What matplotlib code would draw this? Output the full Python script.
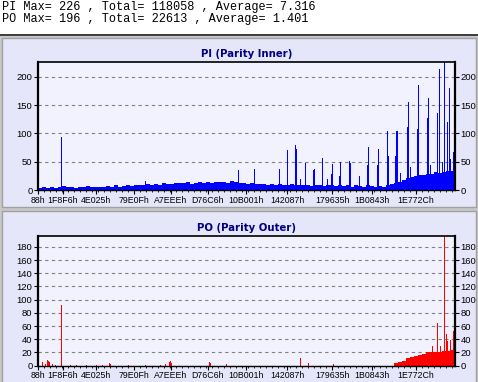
import matplotlib
matplotlib.use("Agg")
import matplotlib.pyplot as plt
from matplotlib.patches import Rectangle
from matplotlib.ticker import MultipleLocator
import numpy as np

# header stats
pi_stats = "PI Max= 226 , Total= 118058 , Average= 7.316"
po_stats = "PO Max= 196 , Total= 22613 , Average= 1.401"

# x axis: address bins (one unit ~ one screen column of the original)
tick_pos = [0, 25, 58, 96, 133, 170, 208, 249, 294, 334, 378]
tick_labels = ["88h", "1F8F6h", "4E025h", "79E0Fh", "A7EEEh", "D76C6h",
               "10B001h", "142087h", "179635h", "1B0843h", "1E772Ch"]
block = 4

# PI: background level per 4-bin block, then the isolated spikes
pi_base = [4, 6, 3, 5, 4, 6,
           7, 5, 6, 4, 6, 5, 7, 5, 6, 6,
           6, 7, 5, 8, 6, 7, 9, 7, 8, 9,
           8, 10, 9, 11, 9, 12, 10, 11, 13, 12,
           12, 14, 11, 13, 15, 12, 14, 13, 15, 14,
           15, 13, 16, 14, 12, 13, 11, 12, 10, 11,
           10, 9, 11, 9, 10, 8, 9, 10, 8, 9,
           8, 9, 7, 8, 9, 7, 8, 9, 7, 8,
           7, 8, 6, 8, 7, 6, 8, 7, 6, 7,
           6, 8, 10, 13, 15, 18, 21, 23, 24, 26,
           27, 29, 28, 31, 30, 32, 33, 34]
pi_spike_x = [23, 107, 200, 216, 241, 249, 257, 258, 262, 267, 275, 276, 284,
              289, 293, 294, 301, 302, 311, 312, 321, 329, 330, 339, 340, 349,
              350, 357, 358, 359, 362, 369, 370, 372, 379, 380, 389, 390, 392,
              399, 401, 404, 406, 409, 411, 412, 415]
pi_spike_y = [94, 16, 35, 37, 38, 70, 79, 72, 19, 48, 35, 38, 56,
              20, 29, 46, 25, 50, 51, 48, 24, 44, 76, 45, 73, 104,
              60, 60, 104, 104, 30, 112, 155, 40, 108, 186, 127, 163, 45,
              136, 215, 50, 226, 120, 181, 55, 67]

# PO
po_base = [0] * 89 + [4, 5, 7, 11, 13, 15, 16, 18, 20, 20, 21, 21, 22, 23, 24]
po_spike_x = [4, 7, 9, 10, 11, 14, 17, 23, 32, 38, 48, 58, 64, 71, 72, 90,
              107, 122, 127, 131, 132, 133, 171, 172, 188, 262, 270, 295,
              394, 399, 402, 406, 408, 409, 412, 415]
po_spike_y = [5, 2, 8, 7, 6, 2, 1, 92, 1, 1, 1, 1, 1, 4, 3, 1,
              1, 1, 2, 6, 7, 4, 6, 4, 2, 11, 4, 3,
              30, 64, 30, 196, 48, 37, 39, 53]

W, H = 478, 382
fig = plt.figure(figsize=(W / 100, H / 100), dpi=100)
fig.patch.set_facecolor("#c8c8c8")


def px_rect(x0, y0, x1, y1, **kw):
    fig.patches.append(Rectangle((x0 / W, 1 - y1 / H), (x1 - x0) / W, (y1 - y0) / H,
                                 transform=fig.transFigure, figure=fig, zorder=-10, **kw))


# header box and the two panels
px_rect(0, 0, W, 34, facecolor="white", edgecolor="none")
px_rect(0, 34, W, 36, facecolor="#404040", edgecolor="none")
px_rect(2, 38, 476, 207, facecolor="#e6e6fa", edgecolor="#a0a0a0", linewidth=1)
px_rect(2, 211, 476, 383, facecolor="#e6e6fa", edgecolor="#a0a0a0", linewidth=1)

fig.text(2 / W, 1 - 7 / H, pi_stats, family="Liberation Mono", fontsize=8.6, va="center")
fig.text(2 / W, 1 - 19 / H, po_stats, family="Liberation Mono", fontsize=8.6, va="center")


def panel(rect, title, base, sx, sy, color, ymax, step):
    ax = fig.add_axes(rect)
    ax.set_facecolor("#f2f2ff")
    xb = np.arange(len(base)) * block
    ax.bar(xb, base, width=block, align="edge", color=color, linewidth=0)
    ax.bar(sx, sy, width=1.0, color=color, linewidth=0)
    ax.set_xlim(0, 417)
    ax.set_ylim(0, ymax)
    ax.set_yticks(np.arange(0, ymax, step))
    ax.set_xticks(tick_pos)
    ax.set_xticklabels(tick_labels)
    ax.xaxis.set_minor_locator(MultipleLocator(6))
    ax.yaxis.grid(True, linestyle=(0, (3, 3)), color="#808080", linewidth=0.8)
    ax.set_axisbelow(True)
    ax.tick_params(axis="y", left=True, right=True, labelleft=True, labelright=True,
                   length=3, pad=1, labelsize=6.8, direction="out")
    ax.tick_params(axis="x", which="major", length=3, pad=1, labelsize=6.3, direction="out")
    ax.tick_params(axis="x", which="minor", length=1.5, direction="out")
    for lab in ax.get_xticklabels() + ax.get_yticklabels():
        lab.set_family("Liberation Sans")
    for s in ["left", "right"]:
        ax.spines[s].set_linewidth(1.6)
    ax.spines["top"].set_linewidth(1.2)
    ax.spines["bottom"].set_linewidth(1.0)
    ax.set_title(title, fontsize=7.3, fontweight="bold", color="#000080", pad=4)
    return ax


panel([38 / W, 1 - 190 / H, 417 / W, 127.7 / H], "PI (Parity Inner)",
      pi_base, pi_spike_x, pi_spike_y, "#0000ff", 226, 50)
panel([38 / W, 1 - 365.7 / H, 417 / W, 129.4 / H], "PO (Parity Outer)",
      po_base, po_spike_x, po_spike_y, "#ff0000", 196, 20)

fig.savefig("out.png", dpi=100, facecolor=fig.get_facecolor())
